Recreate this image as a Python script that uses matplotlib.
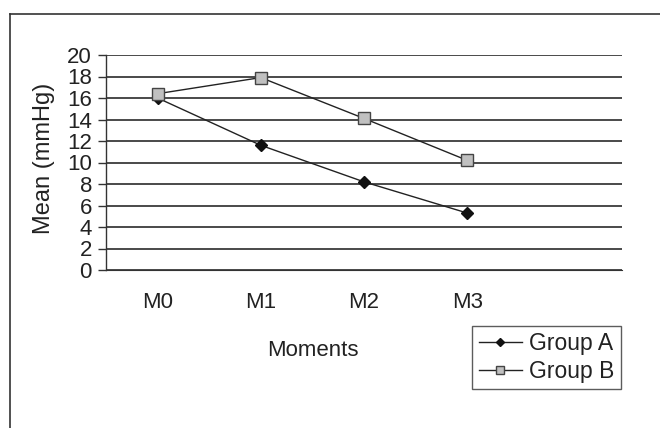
import matplotlib
matplotlib.use("Agg")
import matplotlib.pyplot as plt
from matplotlib.lines import Line2D

plt.rcParams['font.family'] = ['Liberation Sans', 'DejaVu Sans']

moments = ["M0", "M1", "M2", "M3"]
group_a = [16.0, 11.6, 8.2, 5.3]
group_b = [16.4, 17.9, 14.1, 10.2]
y_ticks = [0, 2, 4, 6, 8, 10, 12, 14, 16, 18, 20]

W, H = 660, 428
fig = plt.figure(figsize=(W / 100, H / 100), dpi=100)

# outer chart frame (cut at right and bottom)
fig.add_artist(Line2D([10 / W, 10 / W], [0, 1 - 14 / H], transform=fig.transFigure,
                      color="#333333", lw=1.2))
fig.add_artist(Line2D([10 / W, 1], [1 - 14 / H, 1 - 14 / H], transform=fig.transFigure,
                      color="#333333", lw=1.2))

ax = fig.add_axes([106 / W, (H - 270) / H, (622 - 106) / W, (270 - 55) / H])
x = list(range(len(moments)))
ax.set_xlim(-0.5, 4.5)
ax.set_ylim(0, 20)

for v in y_ticks:
    ax.axhline(v, color="#2b2b2b", lw=1.2, zorder=1)

ax.plot(x, group_a, color="#222222", lw=1.0, marker="D", markersize=6.5,
        markerfacecolor="#111111", markeredgecolor="#111111", zorder=3, label="Group A")
ax.plot(x, group_b, color="#222222", lw=1.0, marker="s", markersize=8,
        markerfacecolor="#c0c0c0", markeredgecolor="#444444", markeredgewidth=1.0,
        zorder=4, label="Group B")

for s in ["top", "right"]:
    ax.spines[s].set_visible(False)
ax.spines["left"].set_color("#333333")
ax.spines["bottom"].set_color("#333333")
ax.spines["left"].set_linewidth(1.0)

ax.set_yticks(y_ticks)
ax.set_yticklabels([str(v) for v in y_ticks], fontsize=16, color="#222222")
ax.tick_params(axis="y", direction="out", length=5.8, width=1.0, color="#333333", pad=4.3)

ax.set_xticks(x)
ax.set_xticklabels(moments, fontsize=16, color="#222222")
ax.tick_params(axis="x", length=0, pad=16)

fig.text(44 / W, 1 - 158 / H, "Mean (mmHg)", rotation=90, ha="center", va="center",
         fontsize=17, color="#222222")
fig.text(313 / W, 1 - 350 / H, "Moments", ha="center", va="center",
         fontsize=16, color="#222222")

leg = ax.legend(loc="center", bbox_to_anchor=(546.5 / W, 1 - 357.5 / H),
                bbox_transform=fig.transFigure, frameon=True, fancybox=False,
                fontsize=16.5, handlelength=1.9, handletextpad=0.3, markerscale=0.7,
                borderpad=0.28, labelspacing=0.18, borderaxespad=0)
leg.get_frame().set_edgecolor("#333333")
leg.get_frame().set_linewidth(1.0)
for t in leg.get_texts():
    t.set_color("#222222")

fig.savefig("out.png", dpi=100)
